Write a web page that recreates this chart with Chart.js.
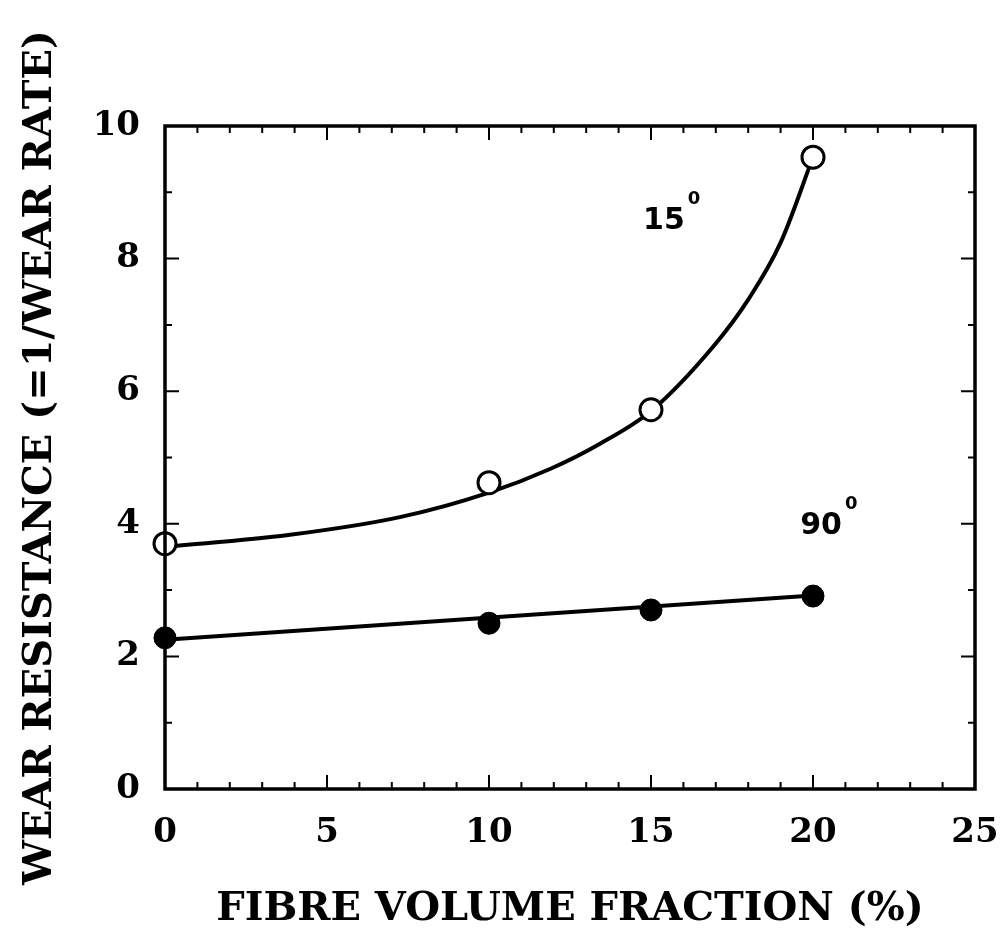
<!DOCTYPE html>
<html>
<head>
<meta charset="utf-8">
<script src="https://cdn.jsdelivr.net/npm/chart.js@4"></script>
<style>
  html, body { margin: 0; padding: 0; background: #fff; }
  #wrap { width: 1002px; height: 930px; }
</style>
</head>
<body>
<div id="wrap"><canvas id="wearChart" width="1002" height="930"></canvas></div>
<script>
// measured points: fibre volume fraction (%) vs wear resistance
const fibreFraction = [0, 10, 15, 20];
const resistance15 = [3.70, 4.62, 5.72, 9.53];
const resistance90 = [2.28, 2.50, 2.70, 2.91];

// fitted trend curves drawn through the measurements
const fitX15 = [0, 3.8, 7.25, 10, 11.9, 13.4, 15, 17, 18, 19, 20];
const fitY15 = [3.65, 3.83, 4.10, 4.47, 4.83, 5.20, 5.70, 6.72, 7.38, 8.24, 9.53];
const fitX90 = [0, 20];
const fitY90 = [2.25, 2.92];

const xTickValues = [0, 5, 10, 15, 20, 25];
const yTickValues = [0, 2, 4, 6, 8, 10];

const toPoints = (xs, ys) => xs.map((x, i) => ({ x: x, y: ys[i] }));

const serif = "'DejaVu Serif', 'Liberation Serif', serif";

// inward ticks on all four sides plus the box
const frameTicks = {
  id: "frameTicks",
  afterDraw(chart) {
    const { ctx, chartArea: a, scales } = chart;
    const xs = scales.x, ys = scales.y;
    ctx.save();
    ctx.strokeStyle = "#000";
    ctx.lineWidth = 2;
    ctx.beginPath();
    for (let v = 0; v <= 25; v++) {
      const px = xs.getPixelForValue(v);
      const len = v % 5 === 0 ? 14 : 7;
      ctx.moveTo(px, a.bottom); ctx.lineTo(px, a.bottom - len);
      ctx.moveTo(px, a.top); ctx.lineTo(px, a.top + len);
    }
    for (let v = 0; v <= 10; v++) {
      const py = ys.getPixelForValue(v);
      const len = v % 2 === 0 ? 14 : 7;
      ctx.moveTo(a.left, py); ctx.lineTo(a.left + len, py);
      ctx.moveTo(a.right, py); ctx.lineTo(a.right - len, py);
    }
    ctx.stroke();
    ctx.lineWidth = 3.5;
    ctx.strokeRect(a.left, a.top, a.right - a.left, a.bottom - a.top);
    ctx.restore();
  }
};

// angle labels beside each curve
const angleLabels = {
  id: "angleLabels",
  afterDraw(chart, args, opts) {
    const { ctx, scales } = chart;
    ctx.save();
    ctx.fillStyle = "#000";
    opts.items.forEach((it) => {
      const px = scales.x.getPixelForValue(it.x);
      const py = scales.y.getPixelForValue(it.y);
      ctx.font = "bold 30px 'DejaVu Sans', sans-serif";
      ctx.textAlign = "center";
      ctx.textBaseline = "middle";
      ctx.fillText(it.text, px, py);
      const w = ctx.measureText(it.text).width;
      ctx.font = "bold 18px 'DejaVu Sans', sans-serif";
      ctx.textAlign = "left";
      ctx.fillText(it.sup, px + w / 2 + 3, py - 21);
    });
    ctx.restore();
  }
};

const markerStyle = {
  showLine: false,
  pointRadius: 11,
  pointBorderColor: "#000",
  clip: false
};

const curveStyle = {
  borderColor: "#000",
  borderWidth: 4,
  pointRadius: 0,
  cubicInterpolationMode: "monotone",
  clip: false
};

new Chart(document.getElementById("wearChart"), {
  type: "line",
  data: {
    datasets: [
      Object.assign({ label: "15° data", data: toPoints(fibreFraction, resistance15), pointBorderWidth: 3, pointBackgroundColor: "#fff" }, markerStyle),
      Object.assign({ label: "90° data", data: toPoints(fibreFraction, resistance90), pointBorderWidth: 1, pointBackgroundColor: "#000" }, markerStyle),
      Object.assign({ label: "15° fit", data: toPoints(fitX15, fitY15) }, curveStyle),
      Object.assign({ label: "90° fit", data: toPoints(fitX90, fitY90) }, curveStyle)
    ]
  },
  options: {
    responsive: false,
    animation: false,
    events: [],
    layout: { autoPadding: false, padding: { left: 0, top: 126, right: 27, bottom: 0 } },
    plugins: {
      legend: { display: false },
      tooltip: { enabled: false },
      angleLabels: {
        items: [
          { text: "15", sup: "0", x: 15.4, y: 8.57 },
          { text: "90", sup: "0", x: 20.25, y: 3.97 }
        ]
      }
    },
    scales: {
      x: {
        type: "linear",
        min: 0,
        max: 25,
        grid: { display: false },
        border: { display: false },
        afterBuildTicks: (s) => { s.ticks = xTickValues.map((v) => ({ value: v })); },
        afterFit: (s) => { s.height = 141; s.paddingLeft = 0; s.paddingRight = 0; },
        ticks: { color: "#000", padding: 19, maxRotation: 0, font: { family: serif, size: 34, weight: "bold", lineHeight: 1 } },
        title: {
          display: true,
          text: "FIBRE VOLUME FRACTION (%)",
          color: "#000",
          padding: { top: 0, bottom: 0 },
          font: { family: serif, size: 40, weight: "bold", lineHeight: 1 }
        }
      },
      y: {
        min: 0,
        max: 10,
        grid: { display: false },
        border: { display: false },
        afterBuildTicks: (s) => { s.ticks = yTickValues.map((v) => ({ value: v })); },
        afterFit: (s) => { s.width = 165; s.paddingTop = 0; s.paddingBottom = 0; },
        ticks: { color: "#000", padding: 17, font: { family: serif, size: 34, weight: "bold", lineHeight: 1 } },
        title: {
          display: true,
          text: "WEAR RESISTANCE (=1/WEAR RATE)",
          color: "#000",
          padding: { top: 21, bottom: 0 },
          font: { family: serif, size: 40, weight: "bold", lineHeight: 1 }
        }
      }
    }
  },
  plugins: [frameTicks, angleLabels]
});
</script>
</body>
</html>
